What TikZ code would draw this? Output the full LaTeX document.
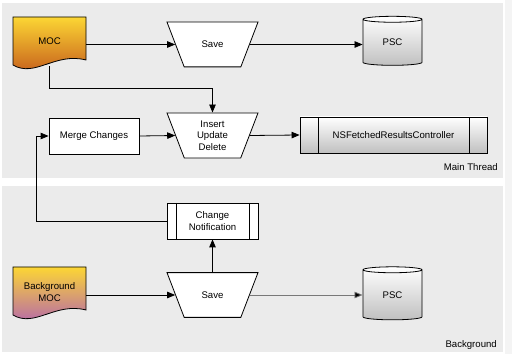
\documentclass[tikz,border=0pt]{standalone}
\usepackage{fontspec}
\setmainfont{Liberation Sans}
\usetikzlibrary{positioning, arrows.meta, shapes.geometric, calc}
\definecolor{laneGray}{RGB}{235,235,235}
\definecolor{edgeGray}{RGB}{244,244,244}
\definecolor{mocYellow}{RGB}{252,214,52}
\definecolor{mocOrange}{RGB}{194,86,26}
\definecolor{mocPurple}{RGB}{176,96,180}
\definecolor{dbGray}{RGB}{192,192,192}
\definecolor{lineGray}{RGB}{120,120,120}

\begin{document}
\begin{tikzpicture}[x=1pt, y=1pt,
  font=\fontsize{9.6}{11.7}\selectfont,
  every node/.style={inner sep=0pt},
  arrow/.style={draw, line width=0.8pt, -{Triangle[length=8pt,width=6.5pt]}},
  proc/.style={draw, fill=white, line width=0.8pt, minimum width=90pt,
               minimum height=36pt, align=center},
  subproc/.style={proc, path picture={
      \draw[line width=0.8pt]
        ([xshift=#1]path picture bounding box.north west) --
        ([xshift=#1]path picture bounding box.south west)
        ([xshift=-#1]path picture bounding box.north east) --
        ([xshift=-#1]path picture bounding box.south east);}},
  funnel/.style={trapezium, shape border rotate=180, trapezium angle=69,
                 trapezium stretches body, draw, fill=white, line width=0.8pt,
                 minimum width=91pt, inner ysep=#1, align=center},
  funnel/.default=19pt,
  store/.style={cylinder, shape border rotate=90, shape aspect=0.3,
                draw, line width=0.8pt, top color=white, bottom color=dbGray,
                minimum width=59pt, minimum height=#1},
]
  \useasboundingbox (0,0) rectangle (512,354);

  % lanes
  \fill[laneGray] (2,176) rectangle (503,351);
  \fill[laneGray] (2,2) rectangle (503,168);
  \fill[edgeGray] (505,0) rectangle (512,354);

  % main thread
  \shadedraw[top color=mocYellow, bottom color=mocOrange, line width=0.8pt]
    (13,337) -- (86,337) -- (86,294)
    .. controls (55,302) and (35,276) .. (13,289) -- cycle;
  \node[minimum width=73pt, minimum height=49pt] (moc) at (49.5,312.5) {MOC};
  \node[funnel] (save) at (212.5,309.5) {Save};
  \node[store=49pt] (psc) at (392.5,311.5) {PSC};
  \node[proc] (merge) at (94,218) {Merge Changes};
  \node[funnel=7.5pt] (insert) at (212.5,218.5) {Insert\\Update\\Delete};
  \node[subproc=18pt, minimum width=187pt, top color=white, bottom color=dbGray]
    (frc) at (393.5,219) {NSFetchedResultsController};
  \node[anchor=base east] (mainlbl) at (498,183) {Main Thread};

  % background
  \shadedraw[top color=mocYellow, bottom color=mocPurple, line width=0.8pt]
    (13,87) -- (86,87) -- (86,44)
    .. controls (55,52) and (35,26) .. (13,39) -- cycle;
  \node[minimum width=73pt, minimum height=50pt, align=center]
    (bgmoc) at (49.5,62) {Background\\MOC};
  \node[funnel] (bgsave) at (212.5,59) {Save};
  \node[store=53pt] (bgpsc) at (392.5,59) {PSC};
  \node[subproc=9pt, minimum width=91pt] (notify) at (212.5,133) {Change\\Notification};
  \node[anchor=base east] (bglbl) at (497,7) {Background};

  % connectors
  \draw[arrow] (moc.east |- save.west) -- (save.west);
  \draw[arrow] (save.east) -- (save.east -| psc.west);
  \draw[arrow] (moc.south) -- ++(0,-22) -| (insert.north);
  \draw[arrow] (merge.east) -- (insert.west);
  \draw[arrow] (insert.east) -- (frc.west);
  \draw[arrow] (notify.west) -- ++(-130,0) |- (merge.west);
  \draw[arrow] (bgsave.north) -- (notify.south);
  \draw[arrow] (bgmoc.east |- bgsave.west) -- (bgsave.west);
  \draw[arrow, draw=lineGray, -{Triangle[length=8pt,width=6.5pt,fill=black]}]
    (bgsave.east) -- (bgsave.east -| bgpsc.west);
\end{tikzpicture}
\end{document}
